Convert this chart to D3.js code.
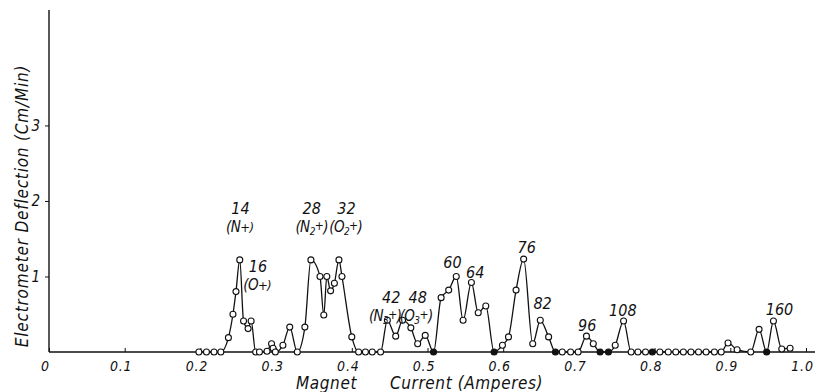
<!DOCTYPE html>
<html><head><meta charset="utf-8">
<script src="https://cdn.jsdelivr.net/npm/d3@7"></script>
<style>
body{margin:0;background:#fff}
svg{display:block}
text{font-family:"DejaVu Sans Condensed","DejaVu Sans",sans-serif;font-style:italic;fill:#111}
</style>
</head><body>
<svg id="chart" width="817" height="392"></svg>
<script>
// Magnet current (amperes) of each measured point
const current = [0.198,0.208,0.218,0.227,0.237,0.243,0.247,0.252,0.257,0.263,0.267,0.273,0.278,0.288,0.294,0.296,0.299,0.309,0.318,0.328,
  0.338,0.346,0.358,0.363,0.367,0.372,0.377,0.383,0.387,0.400,0.409,0.418,0.427,0.438,0.447,0.458,0.467,0.478,0.487,0.497,
  0.508,0.518,0.528,0.538,0.547,0.558,0.567,0.577,0.588,0.599,0.607,0.617,0.627,0.639,0.649,0.660,0.669,0.678,0.689,0.699,
  0.710,0.719,0.728,0.739,0.748,0.759,0.769,0.778,0.788,0.797,0.807,0.818,0.828,0.838,0.848,0.858,0.868,0.879,0.888,0.897,
  0.909,0.927,0.938,0.948,0.957,0.968,0.979];
// Electrometer deflection (cm/min)
const deflection = [0,0,0,0,0.19,0.50,0.80,1.22,0.41,0.31,0.41,0,0,0.01,0.11,0.05,0,0.09,0.33,0,
  0.33,1.22,1.00,0.49,1.00,0.81,0.91,1.22,1.00,0.20,0,0,0,0,0.42,0.21,0.42,0.32,0.11,0.22,
  0,0.72,0.82,1.00,0.42,0.92,0.52,0.61,0,0.09,0.20,0.82,1.23,0.11,0.42,0.20,0,0,0,0,
  0.21,0.11,0,0,0.09,0.41,0,0,0,0,0,0,0,0,0,0,0,0,0,0.12,
  0.03,0,0.30,0,0.41,0.04,0.05];
// points drawn as solid dots
const filledCurrents = [0.508,0.588,0.669,0.728,0.739,0.797,0.948];

const xTickValues = [0,0.1,0.2,0.3,0.4,0.5,0.6,0.7,0.8,0.9,1.0];
const xTickLabels = ["0","0.1","0.2","0.3","0.4","0.5","0.6","0.7","0.8","0.9","1.0"];
const yTickValues = [1,2,3];
const yTickLabels = ["1","2","3"];

// peak annotations: mass number and ion, anchored in data units
const peakNames  = ["14","16","28","32","42","48","60","64","76","82","96","108","160"];
const ionElement = ["N","O","N","O","N","O","","","","","","",""];
const ionSub     = ["","","2","2","3","3","","","","","","",""];
const peakAmps   = [0.253,0.276,0.347,0.393,0.452,0.487,0.533,0.563,0.631,0.652,0.711,0.758,0.965];
const peakLevels = [1.83,1.06,1.83,1.83,0.65,0.65,1.11,0.98,1.31,0.57,0.28,0.48,0.49];
const ionAmps    = [0.252,0.275,0.347,0.392,0.444,0.485,0,0,0,0,0,0,0];

const svg = d3.select("#chart");
svg.append("rect").attr("width",817).attr("height",392).attr("fill","#fff");

const x = d3.scaleLinear().domain([0,1]).range([49,806]);
const y = d3.scaleLinear().domain([0,4.5]).range([352,12.2]);

// axes lines
svg.append("line").attr("x1",x(0)).attr("x2",815).attr("y1",y(0)).attr("y2",y(0))
  .attr("stroke","#111").attr("stroke-width",1.4);
svg.append("line").attr("x1",x(0)).attr("x2",x(0)).attr("y1",y(0)).attr("y2",10)
  .attr("stroke","#111").attr("stroke-width",1.4);

const xAxis = d3.axisBottom(x).tickValues(xTickValues)
  .tickFormat((d,i)=>xTickLabels[i]).tickSize(-4).tickPadding(9);
const gx = svg.append("g").attr("transform",`translate(0,${y(0)})`).call(xAxis);
gx.select(".domain").remove();
gx.selectAll(".tick line").attr("stroke","#111");
gx.selectAll(".tick text").attr("font-size",14).attr("letter-spacing",0.8).attr("dx",-4).attr("fill","#111");

const yAxis = d3.axisLeft(y).tickValues(yTickValues)
  .tickFormat((d,i)=>yTickLabels[i]).tickSize(4).tickPadding(5);
const gy = svg.append("g").attr("transform",`translate(${x(0)},0)`).call(yAxis);
gy.select(".domain").remove();
gy.selectAll(".tick line").attr("stroke","#111");
gy.selectAll(".tick text").attr("font-size",15).attr("fill","#111");

// data line
const pts = current.map((c,i)=>[c,deflection[i]]);
const line = d3.line().x(d=>x(d[0])).y(d=>y(d[1])).curve(d3.curveMonotoneX);
svg.append("path").attr("d",line(pts)).attr("fill","none")
  .attr("stroke","#111").attr("stroke-width",1.3);

svg.selectAll("circle.pt").data(pts).enter().append("circle")
  .attr("class","pt")
  .attr("cx",d=>x(d[0])).attr("cy",d=>y(d[1])).attr("r",3)
  .attr("fill",d=>filledCurrents.includes(d[0])?"#111":"#fff")
  .attr("stroke","#111").attr("stroke-width",1.1);

// peak labels
peakNames.forEach((n,i)=>{
  svg.append("text").attr("x",x(peakAmps[i])).attr("y",y(peakLevels[i]))
    .attr("text-anchor","middle").attr("font-size",16).text(n);
  if(ionElement[i]){
    const t = svg.append("text").attr("x",x(ionAmps[i])).attr("y",y(peakLevels[i])+18)
      .attr("text-anchor","middle").attr("font-size",15).attr("letter-spacing",-0.6);
    t.append("tspan").text("(" + ionElement[i]);
    if(ionSub[i]){
      t.append("tspan").attr("font-size",10).attr("dy",3).text(ionSub[i]);
      t.append("tspan").attr("font-size",12).attr("dy",-5).text("+");
      t.append("tspan").attr("dy",2).text(")");
    } else {
      t.append("tspan").attr("font-size",13).text("+)");
    }
  }
});

// axis titles
svg.append("text").attr("transform","translate(28,206) rotate(-90)")
  .attr("text-anchor","middle").attr("font-size",17).attr("letter-spacing",0.8)
  .text("Electrometer  Deflection (Cm/Min)");
svg.append("text").attr("x",296).attr("y",389).attr("font-size",17).attr("letter-spacing",0.6).text("Magnet");
svg.append("text").attr("x",390).attr("y",389).attr("font-size",17).attr("letter-spacing",0.6).text("Current (Amperes)");
</script>
</body></html>
